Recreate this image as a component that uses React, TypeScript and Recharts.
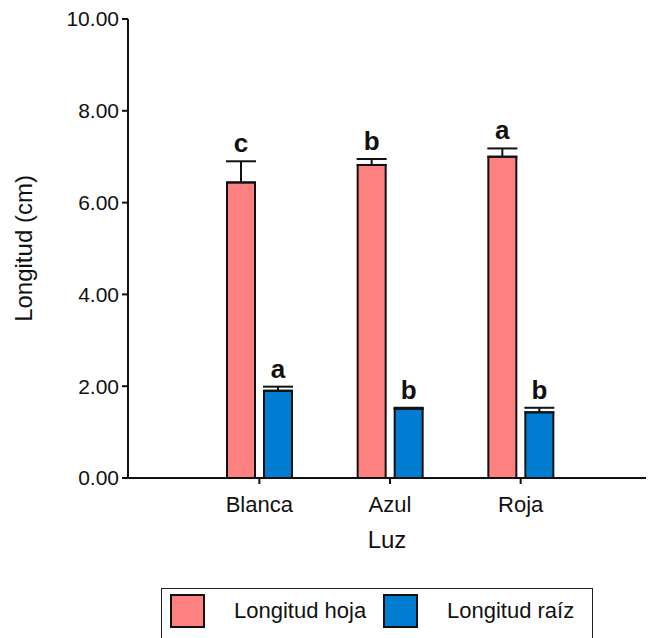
import React from "react";
import {
  BarChart,
  Bar,
  XAxis,
  YAxis,
  ErrorBar,
  LabelList,
  Label,
} from "recharts";

const luz = ["Blanca", "Azul", "Roja"];
const hoja = [6.44, 6.82, 7.0];
const hojaErr = [0.46, 0.13, 0.18];
const hojaLetters = ["c", "b", "a"];
const raiz = [1.9, 1.51, 1.43];
const raizErr = [0.09, 0.02, 0.1];
const raizLetters = ["a", "b", "b"];
const yTicks = [0, 2, 4, 6, 8, 10];

const PINK = "#FF8080";
const BLUE = "#007CD1";
const FONT = "'Liberation Sans', Arial, sans-serif";

const data = luz.map((name, i) => ({
  luz: name,
  hoja: hoja[i],
  hojaErr: [0, hojaErr[i]],
  hojaLetter: hojaLetters[i],
  raiz: raiz[i],
  raizErr: [0, raizErr[i]],
  raizLetter: raizLetters[i],
}));

function letterLabel(values: number[], errs: number[]) {
  return (props: any) => {
    const { x, y, width, height, value, index } = props;
    const pxPerUnit = height / values[index];
    const top = y - errs[index] * pxPerUnit;
    return (
      <text
        x={x + width / 2}
        y={top - 9}
        textAnchor="middle"
        fontFamily={FONT}
        fontWeight="bold"
        fontSize={26}
        fill="#111"
      >
        {value}
      </text>
    );
  };
}

function Swatch({ color }: { color: string }) {
  return (
    <div
      style={{
        width: 31,
        height: 30,
        background: color,
        border: "2px solid #111",
      }}
    />
  );
}

export default function App() {
  return (
    <div
      style={{
        position: "absolute",
        left: 0,
        top: 0,
        width: 649,
        height: 638,
        overflow: "hidden",
        background: "#fff",
        fontFamily: FONT,
      }}
    >
      <BarChart
        width={649}
        height={560}
        data={data}
        margin={{ top: 19, right: 3, left: 16, bottom: 12 }}
        barSize={28}
        barGap={9}
      >
        <XAxis
          dataKey="luz"
          height={70}
          padding={{ left: 66, right: 60 }}
          axisLine={{ stroke: "#111", strokeWidth: 2 }}
          tickLine={{ stroke: "#111", strokeWidth: 2 }}
          tickSize={6}
          tickMargin={12}
          tick={{ fontSize: 22, fill: "#111", fontFamily: FONT }}
        >
          <Label
            value="Luz"
            position="insideBottom"
            offset={0}
            style={{ fontSize: 24, fill: "#111", fontFamily: FONT }}
          />
        </XAxis>
        <YAxis
          width={112}
          domain={[0, 10]}
          ticks={yTicks}
          interval={0}
          tickFormatter={(v: number) => v.toFixed(2)}
          axisLine={{ stroke: "#111", strokeWidth: 2 }}
          tickLine={{ stroke: "#111", strokeWidth: 2 }}
          tickSize={6}
          tickMargin={3}
          tick={{ fontSize: 21, fill: "#111", fontFamily: FONT }}
        >
          <Label
            value="Longitud (cm)"
            angle={-90}
            position="insideLeft"
            offset={7}
            style={{
              fontSize: 24,
              fill: "#111",
              fontFamily: FONT,
              textAnchor: "middle",
            }}
          />
        </YAxis>
        <Bar
          dataKey="hoja"
          fill={PINK}
          stroke="#111"
          strokeWidth={2}
          isAnimationActive={false}
        >
          <ErrorBar
            dataKey="hojaErr"
            direction="y"
            width={15}
            stroke="#111"
            strokeWidth={2}
          />
          <LabelList
            dataKey="hojaLetter"
            content={letterLabel(hoja, hojaErr)}
          />
        </Bar>
        <Bar
          dataKey="raiz"
          fill={BLUE}
          stroke="#111"
          strokeWidth={2}
          isAnimationActive={false}
        >
          <ErrorBar
            dataKey="raizErr"
            direction="y"
            width={15}
            stroke="#111"
            strokeWidth={2}
          />
          <LabelList
            dataKey="raizLetter"
            content={letterLabel(raiz, raizErr)}
          />
        </Bar>
      </BarChart>

      {/* legend box, cut off at the bottom like the original */}
      <div
        style={{
          position: "absolute",
          left: 161,
          top: 588,
          width: 430,
          height: 70,
          border: "1.5px solid #222",
        }}
      >
        <div style={{ position: "absolute", left: 8, top: 5 }}>
          <Swatch color={PINK} />
        </div>
        <div
          style={{
            position: "absolute",
            left: 72,
            top: 9,
            fontSize: 22,
            color: "#111",
            whiteSpace: "nowrap",
          }}
        >
          Longitud hoja
        </div>
        <div style={{ position: "absolute", left: 221, top: 5 }}>
          <Swatch color={BLUE} />
        </div>
        <div
          style={{
            position: "absolute",
            left: 285,
            top: 9,
            fontSize: 22,
            color: "#111",
            whiteSpace: "nowrap",
          }}
        >
          Longitud raíz
        </div>
      </div>
    </div>
  );
}
